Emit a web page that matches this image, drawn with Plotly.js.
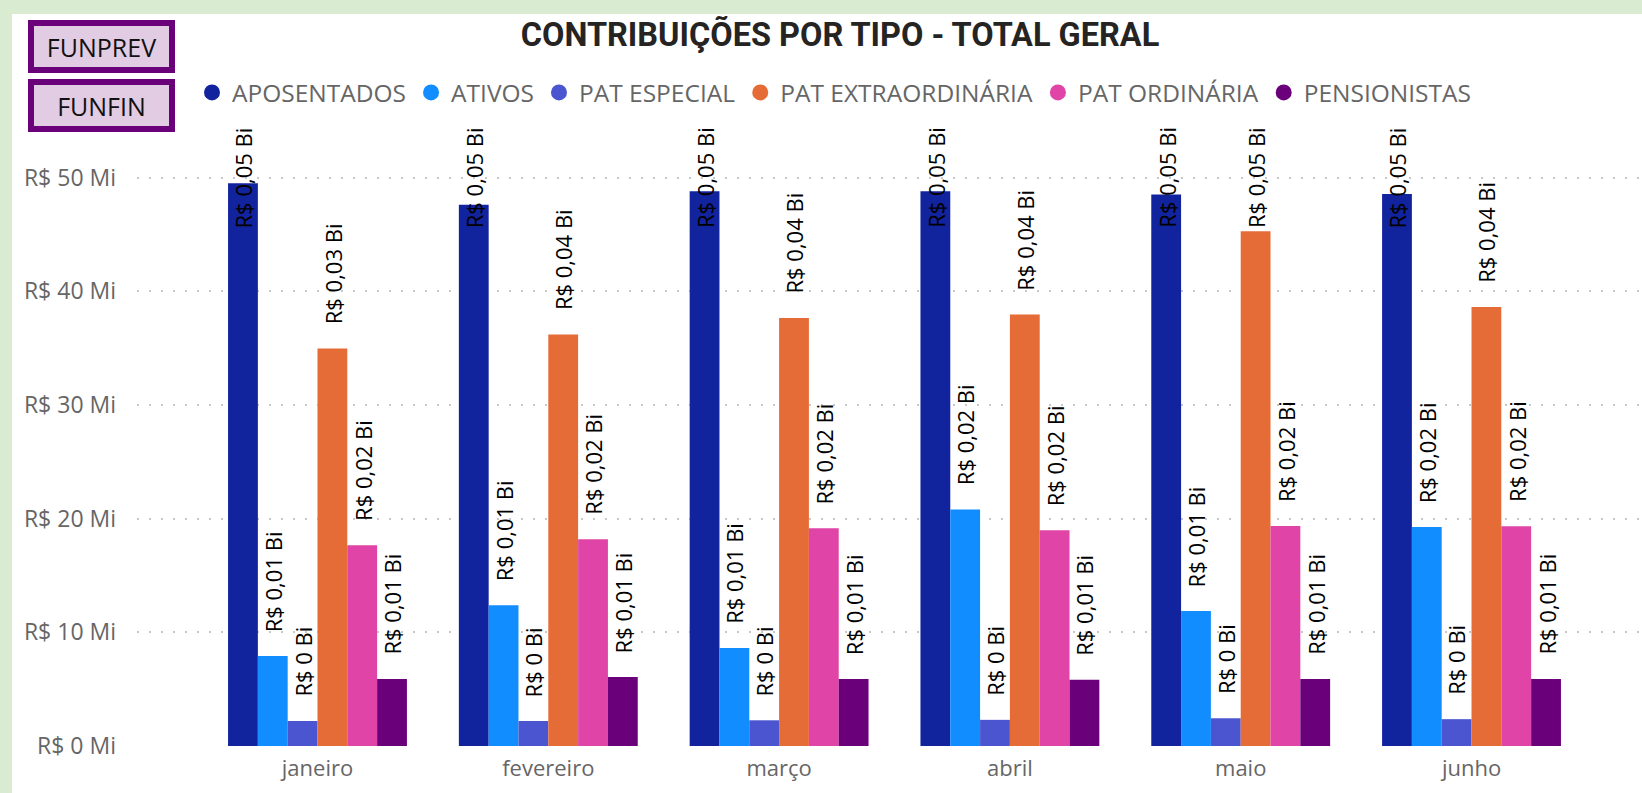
<!DOCTYPE html>
<html><head><meta charset="utf-8">
<script src="https://cdn.plot.ly/plotly-3.0.1.min.js"></script>
<style>
html,body{margin:0;padding:0;width:1642px;height:793px;overflow:hidden;background:#d9ecd1;}
#chart{position:absolute;left:12px;top:14px;width:1630px;height:779px;background:#fff;}
</style></head><body><div id="chart"></div>
<script>
// ---- data (values in R$ milhões) ----
const months = ['janeiro','fevereiro','março','abril','maio','junho'];
const seriesNames = ['APOSENTADOS','ATIVOS','PAT ESPECIAL','PAT EXTRAORDINÁRIA','PAT ORDINÁRIA','PENSIONISTAS'];
const aposentados   = [49.5, 47.6, 48.8, 48.8, 48.5, 48.55];
const ativos        = [7.91, 12.39, 8.62, 20.8, 11.88, 19.26];
const patEspecial   = [2.2, 2.2, 2.26, 2.3, 2.44, 2.36];
const patExtra      = [34.97, 36.2, 37.64, 37.96, 45.27, 38.62];
const patOrdinaria  = [17.66, 18.19, 19.16, 18.98, 19.34, 19.33];
const pensionistas  = [5.89, 6.06, 5.89, 5.82, 5.89, 5.89];
const yTickVals = [0, 10, 20, 30, 40, 50];
const yTickText = ['R$ 0 Mi','R$ 10 Mi','R$ 20 Mi','R$ 30 Mi','R$ 40 Mi','R$ 50 Mi'];
const buttonLabels = ['FUNPREV','FUNFIN'];
const titleText = 'CONTRIBUIÇÕES POR TIPO - TOTAL GERAL';

// ---- styles ----
const seriesValues = [aposentados, ativos, patEspecial, patExtra, patOrdinaria, pensionistas];
const colors = ['#12239E','#118DFF','#4A55CF','#E66C37','#E044A7','#6B007B'];
const W = 1630, H = 779;
const M = {l:125, r:2, t:112, b:47};
const plotW = W - M.l - M.r, plotH = H - M.t - M.b;
const yMax = 54.53;
const bargap = 0.225;
const labelFont = {family:'Open Sans', size:22, color:'#000'};
const gapPx = 23;

function fmtBi(vMi){
  const r = Math.round(vMi/1000*100)/100;
  return 'R$ ' + (r === 0 ? '0' : r.toFixed(2).replace('.', ',')) + ' Bi';
}
const cv = document.createElement('canvas').getContext('2d');
cv.font = labelFont.size + 'px "' + labelFont.family + '"';

const traces = [];
const annotations = [];
const groupW = 1 - bargap, barW = groupW / seriesNames.length;
const pxPerUnit = plotH / yMax;

seriesNames.forEach((name, j) => {
  const vals = seriesValues[j];
  traces.push({
    type:'bar', name:name, x:months, y:vals,
    marker:{color:colors[j]}, showlegend:false, legendgroup:name,
    hoverinfo:'x+y+name'
  });
  traces.push({
    type:'scatter', mode:'markers', name:name, x:[null], y:[null],
    marker:{color:colors[j], size:19, symbol:'circle'}, legendgroup:name,
    showlegend:true, hoverinfo:'skip'
  });
  vals.forEach((v, i) => {
    const txt = fmtBi(v);
    const len = cv.measureText(txt).width;
    const xPos = i - groupW/2 + barW*(j + 0.5);
    const clamp = v*pxPerUnit + gapPx + len > plotH;
    annotations.push({
      xref:'x', yref:'y', x:xPos, y: clamp ? yMax : v,
      text:txt, showarrow:false, textangle:-90,
      xanchor:'center', yanchor: clamp ? 'top' : 'bottom',
      yshift: clamp ? 0 : gapPx, font:labelFont, borderpad:0
    });
  });
});

// buttons (FUNPREV / FUNFIN) positioned in pixels of the chart div
const btnCenters = [[89.5, 32.3],[89.5, 91.3]];
buttonLabels.forEach((b, k) => {
  annotations.push({
    xref:'paper', yref:'paper',
    x:(btnCenters[k][0] - M.l)/plotW, y:(H - M.b - btnCenters[k][1])/plotH,
    xanchor:'center', yanchor:'middle', showarrow:false,
    text:b, width:135, height:41, borderpad:0, borderwidth:6,
    bordercolor:'#6B007B', bgcolor:'#E2CCE3',
    font:{family:'Open Sans', size:25, color:'#111'}
  });
});

const layout = {
  width:W, height:H, margin:M,
  paper_bgcolor:'#fff', plot_bgcolor:'#fff',
  barmode:'group', bargap:bargap, bargroupgap:0,
  title:{text:titleText, x:828/W, xref:'container', y:1-20.4/H, yref:'container',
         xanchor:'center', yanchor:'middle',
         font:{family:'Roboto', size:32.5, weight:700, color:'#252423'}},
  legend:{orientation:'h', xref:'container', yref:'container', x:180/W, y:1-78.5/H,
          xanchor:'left', yanchor:'middle',
          font:{family:'Open Sans', size:24.5, color:'#666'}, itemsizing:'trace',
          itemclick:false, itemdoubleclick:false, tracegroupgap:0},
  xaxis:{type:'category', range:[-0.782, 5.730], showgrid:false, zeroline:false,
         showline:false, ticks:'', tickfont:{family:'Open Sans', size:22, color:'#666'},
         ticklabelstandoff:7, fixedrange:true},
  yaxis:{range:[0, yMax], tickvals:yTickVals, ticktext:yTickText, showgrid:true,
         gridcolor:'#c8c8c8', gridwidth:2, griddash:'2px,10px', zeroline:false,
         showline:false, ticks:'', tickfont:{family:'Open Sans', size:23, color:'#666'},
         ticklabelstandoff:20, fixedrange:true},
  annotations:annotations,
  showlegend:true
};
Plotly.newPlot('chart', traces, layout, {displayModeBar:false});
</script></body></html>
